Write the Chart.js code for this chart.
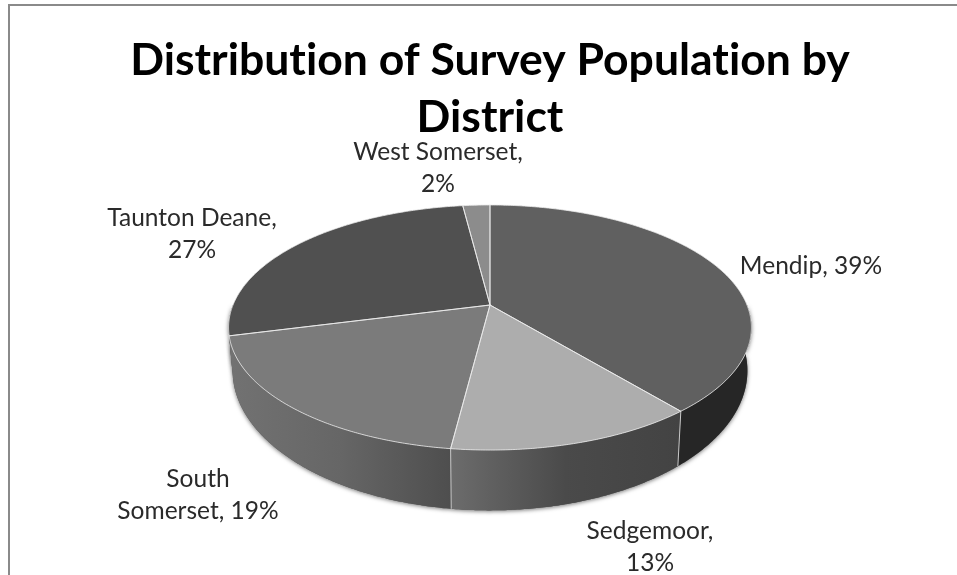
<!DOCTYPE html>
<html>
<head>
<meta charset="utf-8">
<style>
  body { margin: 0; background: #fff; }
  #frame { position: absolute; left: 8px; top: 4px; width: 949px; height: 571px; border-top: 2px solid #8a8a8a; border-left: 2px solid #8a8a8a; box-sizing: border-box; }
  canvas { position: absolute; left: 0; top: 0; }
</style>
<script src="https://cdn.jsdelivr.net/npm/chart.js@4"></script>
</head>
<body>
<div id="frame"></div>
<canvas id="piechart" width="957" height="575"></canvas>
<script>
const categories = ['Mendip', 'Sedgemoor', 'South Somerset', 'Taunton Deane', 'West Somerset'];
const shares = [39, 13, 19, 27, 2];
const titleLines = ['Distribution of Survey Population by', 'District'];

const faceColors = ['#606060', '#adadad', '#7b7b7b', '#505050', '#8c8c8c'];
// wall shading, left to right
const wallColors = [
  ['#262626', '#262626'],
  ['#6c6c6c', '#4a4a4a', '#434343'],
  ['#727272', '#666666', '#4e4e4e'],
  ['#727272', '#727272'],
  ['#555555', '#555555']
];
// label centre, first baseline, words on the first line
const labelX = [811, 650, 198, 192, 438];
const labelY = [274, 539, 487, 226, 160];
const firstLineWords = [2, 1, 1, 2, 2];

// perspective of the top and bottom discs
const top3d = { x: 490, y: 305, rx: 257, ry: 118.4, p: 0.1837 };
const bottom3d = { x: 490, y: 345, rx: 253, ry: 135, p: 0.1837 };

function project(disc, angle) {
  const u = Math.cos(angle), v = Math.sin(angle);
  const w = 1 - disc.p * v;
  return [disc.x + disc.rx * u / w, disc.y + disc.ry * v / w];
}

function rim(disc, start, end) {
  const pts = [];
  const n = Math.max(2, Math.ceil((end - start) / 0.008));
  for (let i = 0; i <= n; i++) pts.push(project(disc, start + (end - start) * i / n));
  return pts;
}

function tracePath(ctx, pts) {
  ctx.beginPath();
  pts.forEach((p, i) => i ? ctx.lineTo(p[0], p[1]) : ctx.moveTo(p[0], p[1]));
  ctx.closePath();
}

// only the front half of the wall can be seen
function wallOutline(arc) {
  const start = Math.max(arc.startAngle, 0);
  const end = Math.min(arc.endAngle, Math.PI);
  if (end <= start) return null;
  return rim(top3d, start, end).concat(rim(bottom3d, start, end).reverse());
}

const pie3d = {
  id: 'pie3d',
  beforeDraw(chart) {
    // the reference has no ti ligature in its title
    chart.ctx.letterSpacing = '0.01px';
  },
  beforeDatasetsDraw(chart) {
    const ctx = chart.ctx;
    const arcs = chart.getDatasetMeta(0).data;

    // soft shadow under the walls
    ctx.save();
    ctx.shadowColor = 'rgba(0,0,0,0.55)';
    ctx.shadowBlur = 4;
    ctx.shadowOffsetY = 1;
    ctx.fillStyle = '#555';
    arcs.forEach(arc => {
      const outline = wallOutline(arc);
      if (!outline) return;
      tracePath(ctx, outline);
      ctx.fill();
    });
    ctx.restore();

    // side walls
    arcs.forEach((arc, i) => {
      const outline = wallOutline(arc);
      if (!outline) return;
      const xs = outline.map(p => p[0]);
      const g = ctx.createLinearGradient(Math.min(...xs), 0, Math.max(...xs), 0);
      wallColors[i].forEach((c, k) => g.addColorStop(k / (wallColors[i].length - 1), c));
      tracePath(ctx, outline);
      ctx.fillStyle = g;
      ctx.fill();
    });
    // wall joins
    arcs.forEach(arc => {
      const a = project(top3d, arc.endAngle), b = project(bottom3d, arc.endAngle);
      if (Math.sin(arc.endAngle) > 0.3) {
        ctx.beginPath();
        ctx.moveTo(a[0], a[1]);
        ctx.lineTo(b[0], b[1]);
        ctx.strokeStyle = '#c8c8c8';
        ctx.lineWidth = 1;
        ctx.stroke();
      }
    });

    // top faces
    arcs.forEach(arc => {
      tracePath(ctx, [[top3d.x, top3d.y]].concat(rim(top3d, arc.startAngle, arc.endAngle)));
      ctx.fillStyle = arc.options.backgroundColor;
      ctx.fill();
    });
    arcs.forEach(arc => {
      tracePath(ctx, [[top3d.x, top3d.y]].concat(rim(top3d, arc.startAngle, arc.endAngle)));
      ctx.strokeStyle = 'rgba(235,235,235,0.8)';
      ctx.lineWidth = 1;
      ctx.stroke();
    });
    return false;
  },
  afterDraw(chart) {
    const ctx = chart.ctx;
    ctx.save();
    ctx.font = '24.5px Lato';
    ctx.fillStyle = '#2a2a2a';
    ctx.textAlign = 'center';
    ctx.textBaseline = 'alphabetic';
    categories.forEach((name, i) => {
      const words = (name + ', ' + shares[i] + '%').split(' ');
      const first = words.slice(0, firstLineWords[i]).join(' ');
      const rest = words.slice(firstLineWords[i]).join(' ');
      ctx.fillText(first, labelX[i], labelY[i]);
      if (rest) ctx.fillText(rest, labelX[i], labelY[i] + 32);
    });
    ctx.restore();
  }
};

const piechart = new Chart(document.getElementById('piechart'), {
  type: 'pie',
  data: {
    labels: categories,
    datasets: [{
      data: shares,
      backgroundColor: faceColors,
      borderWidth: 0
    }]
  },
  options: {
    responsive: false,
    animation: false,
    events: [],
    layout: { padding: { left: 23 } },
    plugins: {
      legend: { display: false },
      tooltip: { enabled: false },
      title: {
        display: true,
        text: titleLines,
        color: '#000',
        font: { family: 'Lato', size: 44.5, weight: 'bold', lineHeight: 1.28 },
        padding: { top: 32, bottom: 10 }
      }
    }
  },
  plugins: [pie3d]
});
</script>
</body>
</html>
